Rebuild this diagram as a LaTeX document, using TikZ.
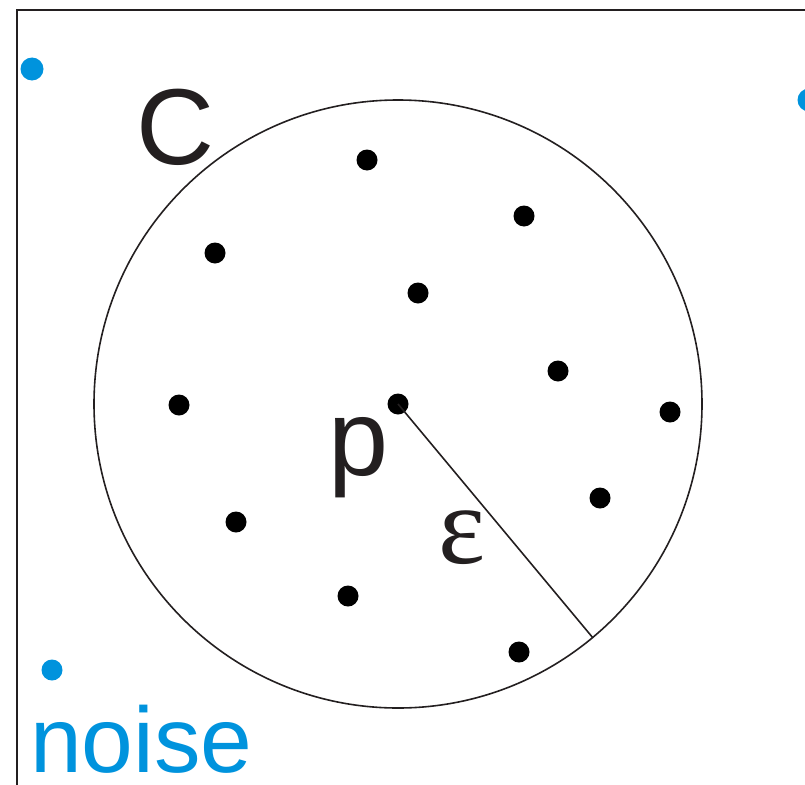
\documentclass[tikz,border=0pt]{standalone}
\usepackage{fontspec}
\setmainfont{Liberation Sans}
\newfontfamily\greekfont{Liberation Serif}
\usepackage{xcolor}
\usepackage{tikz}
\definecolor{inkblack}{HTML}{231F20}
\definecolor{noiseblue}{HTML}{0093DD}

\begin{document}
\begin{tikzpicture}[x=1pt, y=-1pt]
        % Styles for points and labels
        \tikzstyle{core} = [circle, fill=black, inner sep=0pt, minimum size=21pt]
        \tikzstyle{noisept} = [circle, fill=noiseblue, inner sep=0pt, minimum size=23pt]
        \tikzstyle{biglabel} = [inner sep=0pt, text=inkblack, font=\fontsize{108}{108}\selectfont]
        \tikzstyle{edge} = [draw=inkblack, line width=1.6pt]

        % Page and frame
        \useasboundingbox (0,0) rectangle (805,784);
        \clip (0,0) rectangle (805,784);
        \draw [draw=inkblack, line width=2.2pt] (17,10) rectangle (900,900);

        % Neighbourhood of p
        \node (p) [core] at (398,404) {};
        \draw [edge] (p.center) circle (304);
        \coordinate (rim) at (593,638);
        \draw [edge] (p.center) -- (rim);

        % Points in the cluster
        \node (a1) [core] at (367,160) {};
        \node (a2) [core] at (524,216) {};
        \node (a3) [core] at (215,253) {};
        \node (a4) [core] at (418,293) {};
        \node (a5) [core] at (558,371) {};
        \node (a6) [core] at (179,405) {};
        \node (a7) [core] at (670,412) {};
        \node (a8) [core] at (600,498) {};
        \node (a9) [core] at (236,522) {};
        \node (a10) [core] at (348,596) {};
        \node (a11) [core] at (519,652) {};

        % Noise points
        \node (n1) [noisept] at (32,69) {};
        \node (n2) [noisept] at (809,100) {};
        \node (n3) [noisept, minimum size=21pt] at (52,670) {};

        % Labels
        \node (clabel) [biglabel] at (175,127) {C};
        \node (plabel) [biglabel, anchor=base] at (359,475) {p};
        \node (elabel) [biglabel, anchor=base, font=\fontsize{112}{112}\selectfont\greekfont] at (462,563) {ε};
        \node (noiselabel) [inner sep=0pt, anchor=base west, text=noiseblue,
                            font=\fontsize{93}{93}\selectfont] at (30,772) {noise};
\end{tikzpicture}
\end{document}
